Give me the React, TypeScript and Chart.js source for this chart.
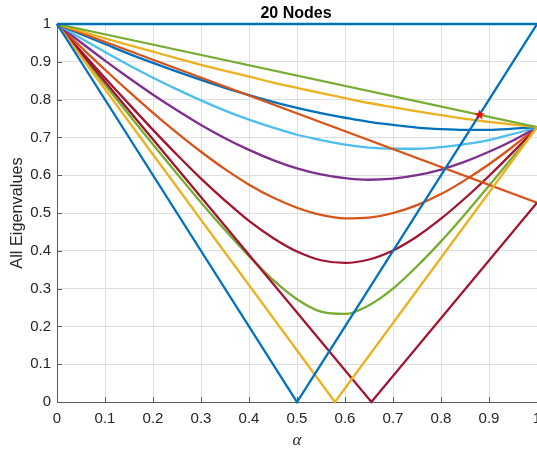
import { useEffect, useRef } from "react";
import { Chart, registerables } from "chart.js";

Chart.register(...registerables);

// Coupling parameter samples used by the smooth eigenvalue branches.
const alphaGrid = [0, 0.05, 0.1, 0.15, 0.2, 0.25, 0.3, 0.35, 0.4, 0.45, 0.5, 0.55, 0.6, 0.65, 0.7, 0.75, 0.8, 0.85, 0.9, 0.95, 1];

// Magnitudes of the complex-conjugate eigenvalue pairs (all meet at 0.727 when alpha = 1).
const pairMag1 = [1, 0.981, 0.962, 0.944, 0.927, 0.909, 0.892, 0.876, 0.861, 0.845, 0.831, 0.817, 0.804, 0.791, 0.78, 0.769, 0.759, 0.749, 0.741, 0.734, 0.727];
const pairMag2 = [1, 0.973, 0.947, 0.921, 0.897, 0.874, 0.852, 0.831, 0.812, 0.794, 0.778, 0.764, 0.752, 0.741, 0.733, 0.726, 0.722, 0.72, 0.72, 0.723, 0.727];
const pairMag3 = [1, 0.962, 0.926, 0.891, 0.858, 0.827, 0.798, 0.771, 0.747, 0.726, 0.707, 0.693, 0.681, 0.673, 0.67, 0.67, 0.674, 0.682, 0.693, 0.709, 0.727];
const pairMag4 = [1, 0.951, 0.903, 0.857, 0.813, 0.772, 0.733, 0.698, 0.667, 0.64, 0.618, 0.602, 0.592, 0.588, 0.591, 0.6, 0.615, 0.636, 0.662, 0.692, 0.727];
const pairMag5 = [1, 0.939, 0.879, 0.821, 0.765, 0.712, 0.662, 0.616, 0.575, 0.541, 0.514, 0.495, 0.486, 0.488, 0.5, 0.521, 0.55, 0.587, 0.629, 0.676, 0.727];
const pairMag6 = [1, 0.928, 0.857, 0.788, 0.72, 0.654, 0.591, 0.533, 0.479, 0.434, 0.398, 0.375, 0.368, 0.377, 0.401, 0.438, 0.485, 0.539, 0.598, 0.661, 0.727];
const pairMag7 = [1, 0.919, 0.839, 0.76, 0.681, 0.604, 0.528, 0.455, 0.386, 0.323, 0.272, 0.239, 0.233, 0.256, 0.3, 0.359, 0.425, 0.497, 0.572, 0.649, 0.727];

// Real eigenvalues: piecewise-linear branches given by their break points.
const edgeAlpha = [0, 1];
const topValues = [1, 1];
const slowDecayValues = [1, 0.727];
const midDecayValues = [1, 0.527];
const vBlueAlpha = [0, 0.5, 1];
const vBlueValues = [1, 0, 1];
const vYellowAlpha = [0, 0.579, 1];
const vYellowValues = [1, 0, 0.727];
const vRedAlpha = [0, 0.655, 1];
const vRedValues = [1, 0, 0.527];

// Highlighted crossing point.
const markerAlpha = [0.88];
const markerValue = [0.76];

// Shared tick positions for both axes.
const axisTicks = [0, 0.1, 0.2, 0.3, 0.4, 0.5, 0.6, 0.7, 0.8, 0.9, 1];

const COLORS = {
  blue: "#0072BD",
  orange: "#D95319",
  yellow: "#EDB120",
  purple: "#7E2F8E",
  green: "#77AC30",
  cyan: "#4DBEEE",
  darkred: "#A2142F",
};

const SANS = '"Liberation Sans", Arial, Helvetica, sans-serif';
const AXIS_COLOR = "#5a5a5a";
const TEXT_COLOR = "#262626";
const LINE_WIDTH = 2.3;

function toPoints(xs: number[], ys: number[]) {
  return xs.map((x, i) => ({ x, y: ys[i] }));
}

function makePentagram(): HTMLCanvasElement {
  const c = document.createElement("canvas");
  c.width = 13;
  c.height = 13;
  const ctx = c.getContext("2d")!;
  const cx = 6.5;
  const cy = 6.8;
  const outer = 5.6;
  const inner = 2.3;
  ctx.beginPath();
  for (let i = 0; i < 10; i++) {
    const r = i % 2 === 0 ? outer : inner;
    const a = -Math.PI / 2 + (i * Math.PI) / 5;
    const px = cx + r * Math.cos(a);
    const py = cy + r * Math.sin(a);
    if (i === 0) ctx.moveTo(px, py);
    else ctx.lineTo(px, py);
  }
  ctx.closePath();
  ctx.fillStyle = "#ff0000";
  ctx.fill();
  return c;
}

const framePlugin = {
  id: "frameDecor",
  beforeDatasetsDraw(chart: any) {
    const { ctx, chartArea, scales } = chart;
    ctx.save();
    ctx.strokeStyle = AXIS_COLOR;
    ctx.lineWidth = 1;
    ctx.beginPath();
    for (const v of axisTicks) {
      const px = Math.round(scales.x.getPixelForValue(v)) + 0.5;
      ctx.moveTo(px, chartArea.bottom);
      ctx.lineTo(px, chartArea.bottom - 5);
      const py = Math.round(scales.y.getPixelForValue(v)) + 0.5;
      ctx.moveTo(chartArea.left, py);
      ctx.lineTo(chartArea.left + 5, py);
    }
    ctx.stroke();
    ctx.restore();
  },
  afterDraw(chart: any) {
    const { ctx, chartArea } = chart;
    const midX = (chartArea.left + chartArea.right) / 2;
    const midY = (chartArea.top + chartArea.bottom) / 2;
    ctx.save();
    ctx.fillStyle = "#000000";
    ctx.font = `bold 16px ${SANS}`;
    ctx.textAlign = "center";
    ctx.textBaseline = "alphabetic";
    ctx.fillText("20 Nodes", midX - 1, 17.5);

    ctx.fillStyle = TEXT_COLOR;
    ctx.font = `italic 17px "Liberation Serif", "Times New Roman", serif`;
    ctx.fillText("\u03B1", midX, 445);

    ctx.translate(22, midY);
    ctx.rotate(-Math.PI / 2);
    ctx.font = `16.3px ${SANS}`;
    ctx.fillText("All Eigenvalues", 0, 0);
    ctx.restore();
  },
};

export default function App() {
  const canvasRef = useRef<HTMLCanvasElement | null>(null);

  useEffect(() => {
    const canvas = canvasRef.current;
    if (!canvas) return;

    const line = (label: string, pts: { x: number; y: number }[], color: string, smooth: boolean) => ({
      type: "line" as const,
      label,
      data: pts,
      borderColor: color,
      backgroundColor: color,
      borderWidth: LINE_WIDTH,
      pointRadius: 0,
      pointHoverRadius: 0,
      fill: false,
      clip: 4,
      cubicInterpolationMode: smooth ? ("monotone" as const) : ("default" as const),
      tension: 0,
    });

    // Listed bottom-to-top.
    const stack: any[] = [
      line("pair 7", toPoints(alphaGrid, pairMag7), COLORS.green, true),
      line("pair 6", toPoints(alphaGrid, pairMag6), COLORS.darkred, true),
      line("pair 5", toPoints(alphaGrid, pairMag5), COLORS.orange, true),
      line("pair 4", toPoints(alphaGrid, pairMag4), COLORS.purple, true),
      line("pair 3", toPoints(alphaGrid, pairMag3), COLORS.cyan, true),
      line("pair 2", toPoints(alphaGrid, pairMag2), COLORS.blue, true),
      line("mid decay", toPoints(edgeAlpha, midDecayValues), COLORS.orange, false),
      line("pair 1", toPoints(alphaGrid, pairMag1), COLORS.yellow, true),
      line("slow decay", toPoints(edgeAlpha, slowDecayValues), COLORS.green, false),
      line("red V", toPoints(vRedAlpha, vRedValues), COLORS.darkred, false),
      line("yellow V", toPoints(vYellowAlpha, vYellowValues), COLORS.yellow, false),
      line("blue V", toPoints(vBlueAlpha, vBlueValues), COLORS.blue, false),
      line("unit", toPoints(edgeAlpha, topValues), COLORS.blue, false),
      {
        type: "line" as const,
        label: "crossing",
        data: toPoints(markerAlpha, markerValue),
        showLine: false,
        pointStyle: makePentagram(),
        pointRadius: 5,
        pointHoverRadius: 5,
        clip: false,
      },
    ];
    const n = stack.length;
    stack.forEach((ds, i) => {
      ds.order = n - i;
    });

    const chart = new Chart(canvas, {
      type: "line",
      data: { datasets: stack },
      options: {
        responsive: false,
        devicePixelRatio: 1,
        animation: false,
        events: [],
        layout: { autoPadding: false, padding: { top: 24, left: 0, right: 0, bottom: 0 } },
        plugins: {
          legend: { display: false },
          tooltip: { enabled: false },
          title: { display: false },
        },
        scales: {
          x: {
            type: "linear",
            min: 0,
            max: 1,
            afterBuildTicks: (scale: any) => {
              scale.ticks = axisTicks.map((v) => ({ value: v }));
            },
            afterFit: (scale: any) => {
              scale.height = 50;
              scale.paddingLeft = 0;
              scale.paddingRight = 0;
            },
            grid: { color: "#dfdfdf", lineWidth: 1, drawTicks: false },
            border: { display: true, color: AXIS_COLOR, width: 1 },
            ticks: {
              padding: 8,
              color: TEXT_COLOR,
              font: { family: SANS, size: 15 },
              maxRotation: 0,
              autoSkip: false,
              callback: (v: any) => String(Math.round(Number(v) * 10) / 10),
            },
          },
          y: {
            type: "linear",
            min: 0,
            max: 1,
            afterBuildTicks: (scale: any) => {
              scale.ticks = axisTicks.map((v) => ({ value: v }));
            },
            afterFit: (scale: any) => {
              scale.width = 57;
              scale.paddingTop = 0;
              scale.paddingBottom = 0;
            },
            grid: { color: "#dfdfdf", lineWidth: 1, drawTicks: false },
            border: { display: true, color: AXIS_COLOR, width: 1 },
            ticks: {
              padding: 6,
              color: TEXT_COLOR,
              font: { family: SANS, size: 15 },
              autoSkip: false,
              callback: (v: any) => String(Math.round(Number(v) * 10) / 10),
            },
          },
        },
      },
      plugins: [framePlugin],
    });

    return () => chart.destroy();
  }, []);

  return (
    <div style={{ position: "absolute", left: 0, top: 0, width: 537, height: 452, background: "#ffffff" }}>
      <canvas ref={canvasRef} width={537} height={452} style={{ display: "block" }} />
    </div>
  );
}
